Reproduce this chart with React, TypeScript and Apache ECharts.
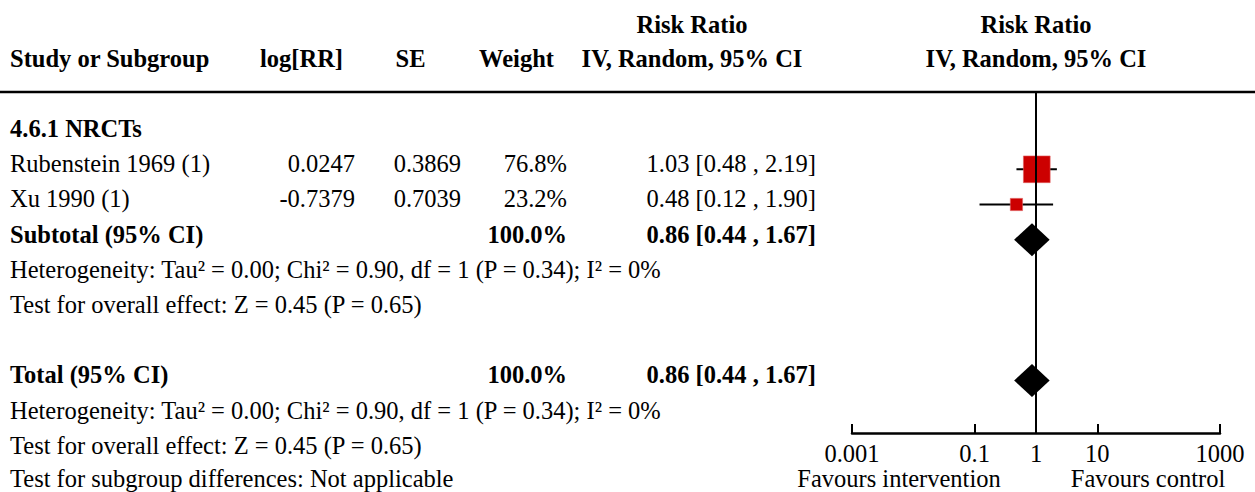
import React, { useEffect, useRef } from "react";
import * as echarts from "echarts";

// ---- data ----
const studies = ["Rubenstein 1969 (1)", "Xu 1990 (1)"];
const logRR = ["0.0247", "-0.7379"];
const seVals = ["0.3869", "0.7039"];
const weights = [76.8, 23.2];
const rrVals = [1.03, 0.48];
const rrLower = [0.48, 0.12];
const rrUpper = [2.19, 1.9];
const pooledRR = 0.86;
const pooledLower = 0.44;
const pooledUpper = 1.67;
const pooledWeight = 100.0;
const tickValues = [0.001, 0.1, 1, 10, 1000];
const tickLabels = ["0.001", "0.1", "1", "10", "1000"];
const subgroupTitle = "4.6.1 NRCTs";
const heterogeneityText = "Heterogeneity: Tau² = 0.00; Chi² = 0.90, df = 1 (P = 0.34); I² = 0%";
const overallText = "Test for overall effect: Z = 0.45 (P = 0.65)";
const subgroupDiffText = "Test for subgroup differences: Not applicable";
const favoursLeft = "Favours intervention";
const favoursRight = "Favours control";

// row indices
const studyRows = [1, 2];
const subtotalRow = 3;
const totalRow = 7;

// layout
const W = 1255;
const H = 492;
const GRID_TOP = 93;
const GRID_BOTTOM_Y = 433;
const PITCH = 35.2;
const FIRST_MARK_Y = 169.3;
const Y_MIN = 1 - (FIRST_MARK_Y - GRID_TOP) / PITCH;
const Y_MAX = Y_MIN + (GRID_BOTTOM_Y - GRID_TOP) / PITCH;
const TEXT_OFFSET = -5.6;
const FONT = "'Liberation Serif', 'Times New Roman', serif";
const FS = 24.5;

const rowY = (r: number) => FIRST_MARK_Y + (r - 1) * PITCH + TEXT_OFFSET;
const fmtCI = (m: number, l: number, u: number) =>
  `${m.toFixed(2)} [${l.toFixed(2)} , ${u.toFixed(2)}]`;

function txt(text: string, x: number, y: number, align: string, bold = false) {
  return {
    type: "text",
    x,
    y,
    silent: true,
    style: {
      text,
      fill: "#000",
      font: `${bold ? "bold " : ""}${FS}px ${FONT}`,
      textAlign: align,
      textVerticalAlign: "middle",
    },
  };
}

export default function App() {
  const ref = useRef<HTMLDivElement>(null);
  useEffect(() => {
    if (!ref.current) return;
    const chart = echarts.init(ref.current, null, { renderer: "svg" });

    const graphics: any[] = [];
    // header
    graphics.push(txt("Risk Ratio", 692, 24, "center", true));
    graphics.push(txt("Risk Ratio", 1036, 24, "center", true));
    graphics.push(txt("Study or Subgroup", 10, 58, "left", true));
    graphics.push(txt("log[RR]", 301.5, 58, "center", true));
    graphics.push(txt("SE", 410.5, 58, "center", true));
    graphics.push(txt("Weight", 516.5, 58, "center", true));
    graphics.push(txt("IV, Random, 95% CI", 692, 58, "center", true));
    graphics.push(txt("IV, Random, 95% CI", 1036, 58, "center", true));
    graphics.push({
      type: "line",
      silent: true,
      shape: { x1: 0, y1: 92, x2: W, y2: 92 },
      style: { stroke: "#000", lineWidth: 2.5 },
    });
    // subgroup
    graphics.push(txt(subgroupTitle, 10, rowY(0), "left", true));
    studies.forEach((s, i) => {
      const y = rowY(studyRows[i]);
      graphics.push(txt(s, 10, y, "left"));
      graphics.push(txt(logRR[i], 355, y, "right"));
      graphics.push(txt(seVals[i], 461, y, "right"));
      graphics.push(txt(`${weights[i].toFixed(1)}%`, 567, y, "right"));
      graphics.push(txt(fmtCI(rrVals[i], rrLower[i], rrUpper[i]), 816, y, "right"));
    });
    graphics.push(txt("Subtotal (95% CI)", 10, rowY(subtotalRow), "left", true));
    graphics.push(txt(`${pooledWeight.toFixed(1)}%`, 567, rowY(subtotalRow), "right", true));
    graphics.push(txt(fmtCI(pooledRR, pooledLower, pooledUpper), 816, rowY(subtotalRow), "right", true));
    graphics.push(txt(heterogeneityText, 10, rowY(4), "left"));
    graphics.push(txt(overallText, 10, rowY(5), "left"));
    // total
    graphics.push(txt("Total (95% CI)", 10, rowY(totalRow), "left", true));
    graphics.push(txt(`${pooledWeight.toFixed(1)}%`, 567, rowY(totalRow), "right", true));
    graphics.push(txt(fmtCI(pooledRR, pooledLower, pooledUpper), 816, rowY(totalRow), "right", true));
    graphics.push(txt(heterogeneityText, 10, rowY(8), "left"));
    graphics.push(txt(overallText, 10, rowY(9), "left"));
    const lastY = rowY(10) - 2;
    graphics.push(txt(subgroupDiffText, 10, lastY, "left"));
    graphics.push(txt(favoursLeft, 899, lastY, "center"));
    graphics.push(txt(favoursRight, 1148, lastY, "center"));

    const studyData = studies.map((_, i) => [rrVals[i], studyRows[i], rrLower[i], rrUpper[i], weights[i]]);
    const diamondData = [
      [pooledRR, subtotalRow, pooledLower, pooledUpper],
      [pooledRR, totalRow, pooledLower, pooledUpper],
    ];

    chart.setOption({
      animation: false,
      grid: { left: 852, right: W - 1220, top: GRID_TOP, bottom: H - GRID_BOTTOM_Y, containLabel: false },
      xAxis: {
        type: "log",
        logBase: 10,
        min: 0.001,
        max: 1000,
        position: "bottom",
        axisLine: { show: true, onZero: false, lineStyle: { color: "#000", width: 2.5 } },
        axisTick: {
          show: true,
          inside: true,
          length: 9,
          customValues: tickValues,
          lineStyle: { color: "#000", width: 2 },
        },
        axisLabel: {
          show: true,
          customValues: tickValues,
          color: "#000",
          fontSize: FS,
          fontFamily: FONT,
          margin: 8,
          formatter: (v: number) => {
            let best = 0;
            tickValues.forEach((t, i) => {
              if (Math.abs(Math.log10(t) - Math.log10(v)) < Math.abs(Math.log10(tickValues[best]) - Math.log10(v))) best = i;
            });
            return tickLabels[best];
          },
        },
        splitLine: { show: false },
        minorTick: { show: false },
      },
      yAxis: {
        type: "value",
        inverse: true,
        min: Y_MIN,
        max: Y_MAX,
        show: false,
        splitLine: { show: false },
      },
      series: [
        {
          type: "custom",
          z: 2,
          data: studyData,
          renderItem: (params: any, api: any) => {
            const row = api.value(1);
            const c = api.coord([api.value(0), row]);
            const lo = api.coord([api.value(2), row]);
            const hi = api.coord([api.value(3), row]);
            const s = 6 + 0.27 * api.value(4);
            return {
              type: "group",
              children: [
                {
                  type: "line",
                  shape: { x1: lo[0], y1: lo[1], x2: hi[0], y2: hi[1] },
                  style: { stroke: "#000", lineWidth: 2 },
                },
                {
                  type: "rect",
                  shape: { x: c[0] - s / 2, y: c[1] - s / 2, width: s, height: s },
                  style: { fill: "#CC0000", stroke: "#E06060", lineWidth: 0.6 },
                },
              ],
            };
          },
        },
        {
          type: "custom",
          z: 2,
          data: diamondData,
          renderItem: (params: any, api: any) => {
            const row = api.value(1);
            const c = api.coord([api.value(0), row]);
            const lo = api.coord([api.value(2), row]);
            const hi = api.coord([api.value(3), row]);
            const h = 16.5;
            return {
              type: "polygon",
              shape: {
                points: [
                  [lo[0], c[1]],
                  [c[0], c[1] - h],
                  [hi[0], c[1]],
                  [c[0], c[1] + h],
                ],
              },
              style: { fill: "#000" },
            };
          },
        },
        {
          type: "line",
          z: 3,
          symbol: "none",
          silent: true,
          data: [
            [1, Y_MIN],
            [1, Y_MAX],
          ],
          lineStyle: { color: "#000", width: 2 },
        },
      ],
      graphic: graphics,
    });
    return () => chart.dispose();
  }, []);
  return (
    <div
      ref={ref}
      style={{ position: "fixed", left: 0, top: 0, width: W, height: H, background: "#fff" }}
    />
  );
}
